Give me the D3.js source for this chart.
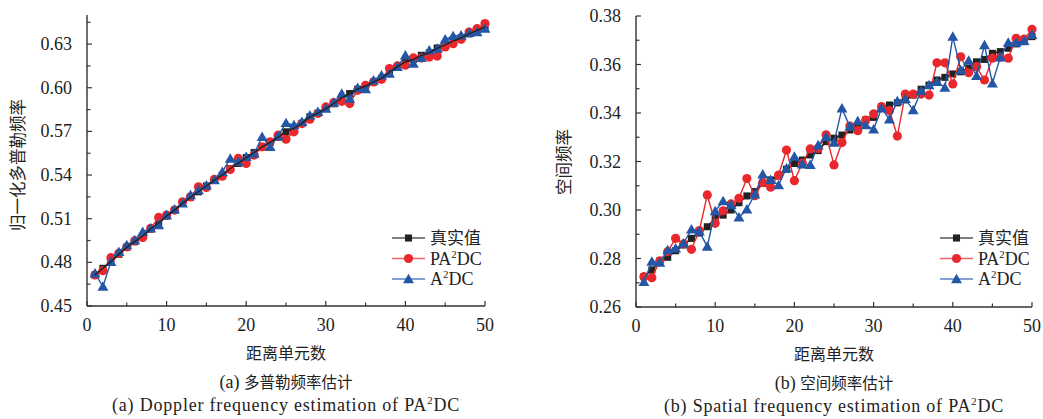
<!DOCTYPE html>
<html><head><meta charset="utf-8">
<script src="https://cdn.jsdelivr.net/npm/d3@7"></script>
<style>
body{margin:0;background:#fff;}
svg{display:block;}
</style>
</head><body>
<svg id="c" width="1043" height="419"></svg>
<script>
// ---------- DATA ----------
const rangeCells = d3.range(1, 51);

// (a) Doppler frequency
const dopplerTruth = [0.4713,0.4759,0.4804,0.4855,0.4903,0.4942,0.4981,0.5029,0.5072,0.5118,
  0.5159,0.5205,0.5246,0.5285,0.5325,0.5365,0.5399,0.5445,0.5480,0.5520,
  0.5555,0.5594,0.5624,0.5660,0.5697,0.5720,0.5755,0.5800,0.5825,0.5857,
  0.5890,0.5930,0.5960,0.5990,0.6012,0.6040,0.6065,0.6108,0.6145,0.6177,
  0.6195,0.6223,0.6240,0.6273,0.6295,0.6320,0.6343,0.6370,0.6395,0.6418];
const dopplerPA2DC = [0.4713,0.4743,0.4832,0.4862,0.4907,0.4948,0.4971,0.5033,0.5109,0.5125,
  0.5159,0.5216,0.5250,0.5319,0.5315,0.5370,0.5392,0.5438,0.5514,0.5480,
  0.5537,0.5594,0.5628,0.5674,0.5646,0.5697,0.5754,0.5784,0.5823,0.5868,
  0.5898,0.5907,0.5891,0.5983,0.6017,0.6040,0.6058,0.6132,0.6150,0.6155,
  0.6205,0.6205,0.6211,0.6218,0.6280,0.6303,0.6333,0.6383,0.6406,0.6441];
const dopplerA2DC = [0.4724,0.4633,0.4804,0.4873,0.4919,0.4953,0.5010,0.5033,0.5056,0.5125,
  0.5165,0.5205,0.5262,0.5296,0.5330,0.5365,0.5422,0.5514,0.5491,0.5525,
  0.5548,0.5662,0.5594,0.5667,0.5758,0.5743,0.5765,0.5811,0.5834,0.5857,
  0.5898,0.5960,0.5926,0.5999,0.5990,0.6051,0.6086,0.6097,0.6143,0.6223,
  0.6166,0.6205,0.6257,0.6269,0.6333,0.6356,0.6360,0.6378,0.6383,0.6406];

// (b) Spatial frequency
const spatialTruth = [0.2725,0.2753,0.2790,0.2805,0.2832,0.2856,0.2883,0.2905,0.2931,0.2966,
  0.2979,0.3000,0.3030,0.3058,0.3076,0.3110,0.3124,0.3140,0.3168,0.3192,
  0.3206,0.3227,0.3245,0.3282,0.3296,0.3309,0.3330,0.3344,0.3371,0.3382,
  0.3426,0.3433,0.3442,0.3454,0.3474,0.3498,0.3515,0.3536,0.3547,0.3561,
  0.3570,0.3584,0.3611,0.3621,0.3646,0.3653,0.3667,0.3685,0.3694,0.3715];
const spatialPA2DC = [0.2725,0.2721,0.2790,0.2828,0.2883,0.2860,0.2838,0.2915,0.3062,0.2945,
  0.2997,0.3025,0.3048,0.3130,0.3059,0.3113,0.3094,0.3144,0.3247,0.3121,
  0.3193,0.3252,0.3254,0.3310,0.3186,0.3278,0.3346,0.3327,0.3371,0.3396,
  0.3426,0.3410,0.3305,0.3478,0.3478,0.3478,0.3474,0.3607,0.3607,0.3520,
  0.3632,0.3566,0.3591,0.3536,0.3626,0.3630,0.3626,0.3708,0.3705,0.3745];
const spatialA2DC = [0.2704,0.2787,0.2783,0.2835,0.2842,0.2863,0.2920,0.2912,0.2849,0.2996,
  0.3037,0.3021,0.2970,0.3003,0.3065,0.3147,0.3124,0.3103,0.3172,0.3220,
  0.3188,0.3186,0.3268,0.3302,0.3278,0.3419,0.3344,0.3367,0.3350,0.3333,
  0.3419,0.3374,0.3449,0.3458,0.3412,0.3491,0.3515,0.3529,0.3505,0.3715,
  0.3577,0.3616,0.3553,0.3680,0.3522,0.3630,0.3690,0.3690,0.3698,0.3722];

const xTicks = [0,10,20,30,40,50];
const xMinorTicks = [5,15,25,35,45];
const dopplerYTicks = [0.45,0.48,0.51,0.54,0.57,0.60,0.63];
const dopplerYMinor = [0.465,0.495,0.525,0.555,0.585,0.615,0.645];
const spatialYTicks = [0.26,0.28,0.30,0.32,0.34,0.36,0.38];
const spatialYMinor = [0.27,0.29,0.31,0.33,0.35,0.37];

const seriesNames = ["真实值","PA2DC","A2DC"];
const xTitle = "距离单元数";
const captionsA = ["(a) 多普勒频率估计", "(a) Doppler frequency estimation of PA2DC"];
const captionsB = ["(b) 空间频率估计", "(b) Spatial frequency estimation of PA2DC"];

// ---------- DRAW ----------
const svg = d3.select("#c");
const LATIN = "'Liberation Serif','DejaVu Serif',serif";
const CJK = "'Noto Sans CJK SC','Noto Sans CJK JP',sans-serif";
const AXC = "#333";
const RED = "#e8282c", BLUE = "#2456a6", BLACK = "#222";

// write a text possibly containing "A2DC" with superscript 2
function richText(sel, str, baseSize, cjkSize) {
  const parts = str.split(/(A2DC)/);
  parts.forEach(p => {
    if (p === "A2DC") {
      sel.append("tspan").text("A").attr("font-family", LATIN).attr("font-size", baseSize);
      sel.append("tspan").text("2").attr("font-size", baseSize*0.6).attr("dy", -baseSize*0.38).attr("font-family", LATIN);
      sel.append("tspan").text("DC").attr("dy", baseSize*0.38).attr("font-family", LATIN).attr("font-size", baseSize);
    } else if (p.length) {
      const segs = p.match(/([\u4e00-\u9fff]+|[^\u4e00-\u9fff]+)/g) || [];
      segs.forEach(s => {
        const isCJK = /[\u4e00-\u9fff]/.test(s);
        sel.append("tspan").text(s).attr("font-family", isCJK ? CJK : LATIN)
          .attr("font-size", isCJK ? cjkSize : baseSize);
      });
    }
  });
}

function panel(cfg) {
  const g = svg.append("g");
  const x = d3.scaleLinear().domain([0,50]).range([cfg.x0, cfg.x1]);
  const y = d3.scaleLinear().domain(cfg.yDomain).range([cfg.y0, cfg.y1]);

  g.append("line").attr("x1", cfg.x0).attr("x2", cfg.x1).attr("y1", cfg.y0).attr("y2", cfg.y0)
    .attr("stroke", AXC).attr("stroke-width", 1.4);
  g.append("line").attr("x1", cfg.x0).attr("x2", cfg.x0).attr("y1", cfg.y0).attr("y2", cfg.y1)
    .attr("stroke", AXC).attr("stroke-width", 1.4);

  g.selectAll(".xt").data(xTicks).join("line")
    .attr("x1", d => x(d)).attr("x2", d => x(d)).attr("y1", cfg.y0).attr("y2", cfg.y0 - 5)
    .attr("stroke", AXC).attr("stroke-width", 1.2);
  g.selectAll(".xm").data(xMinorTicks).join("line")
    .attr("x1", d => x(d)).attr("x2", d => x(d)).attr("y1", cfg.y0).attr("y2", cfg.y0 - 3.5)
    .attr("stroke", AXC).attr("stroke-width", 1.2);
  g.selectAll(".xl").data(xTicks).join("text")
    .attr("x", d => x(d)).attr("y", cfg.y0 + 25)
    .attr("text-anchor", "middle").attr("font-family", LATIN).attr("font-size", 18).attr("fill", "#222")
    .text(d => d);

  g.selectAll(".yt").data(cfg.yTicks).join("line")
    .attr("x1", cfg.x0).attr("x2", cfg.x0 + 5).attr("y1", d => y(d)).attr("y2", d => y(d))
    .attr("stroke", AXC).attr("stroke-width", 1.2);
  g.selectAll(".ym").data(cfg.yMinor).join("line")
    .attr("x1", cfg.x0).attr("x2", cfg.x0 + 3.5).attr("y1", d => y(d)).attr("y2", d => y(d))
    .attr("stroke", AXC).attr("stroke-width", 1.2);
  g.selectAll(".yl").data(cfg.yTicks).join("text")
    .attr("x", cfg.x0 - 15).attr("y", d => y(d) + 6)
    .attr("text-anchor", "end").attr("font-family", LATIN).attr("font-size", 18).attr("fill", "#222")
    .text(d => d.toFixed(2));

  g.append("text").attr("x", (cfg.x0 + cfg.x1)/2).attr("y", cfg.y0 + 53)
    .attr("text-anchor", "middle").attr("font-family", CJK).attr("font-size", 16).attr("fill", "#222")
    .text(xTitle);
  g.append("text").attr("transform", `translate(${cfg.yTitleX},${cfg.yTitleY}) rotate(-90)`)
    .attr("text-anchor", "middle").attr("font-family", CJK).attr("font-size", 16.5).attr("fill", "#222")
    .text(cfg.yTitle);

  const c1 = g.append("text").attr("x", (cfg.x0 + cfg.x1)/2).attr("y", cfg.y0 + 82)
    .attr("text-anchor", "middle").attr("fill", "#222");
  richText(c1, cfg.captions[0], 18, 15.5);
  const c2 = g.append("text").attr("x", (cfg.x0 + cfg.x1)/2).attr("y", cfg.y0 + 105)
    .attr("text-anchor", "middle").attr("fill", "#222").attr("letter-spacing", 0.8);
  richText(c2, cfg.captions[1], 18, 16);

  const line = d3.line().x((d,i) => x(rangeCells[i])).y(d => y(d));
  const pts = (arr) => arr.map((v,i) => ({i: rangeCells[i], v}));
  const sq = d3.symbol().type(d3.symbolSquare).size(50);
  const tri = d3.symbol().type(d3.symbolTriangle).size(52);

  g.append("path").attr("d", line(cfg.truth)).attr("fill", "none").attr("stroke", BLACK).attr("stroke-width", 1.6);
  g.selectAll(".sq").data(pts(cfg.truth)).join("path")
    .attr("transform", d => `translate(${x(d.i)},${y(d.v)})`).attr("d", sq).attr("fill", BLACK);
  g.append("path").attr("d", line(cfg.pa)).attr("fill", "none").attr("stroke", RED).attr("stroke-width", 1.4);
  g.selectAll(".ci").data(pts(cfg.pa)).join("circle")
    .attr("cx", d => x(d.i)).attr("cy", d => y(d.v)).attr("r", 4.6).attr("fill", RED);
  g.append("path").attr("d", line(cfg.a)).attr("fill", "none").attr("stroke", BLUE).attr("stroke-width", 1.4);
  g.selectAll(".tr").data(pts(cfg.a)).join("path")
    .attr("transform", d => `translate(${x(d.i)},${y(d.v)+1})`).attr("d", tri).attr("fill", BLUE);
  if (cfg.truthOnTop) {
    g.append("path").attr("d", line(cfg.truth)).attr("fill", "none").attr("stroke", BLACK).attr("stroke-width", 1.4);
  }

  const lg = g.append("g");
  const cols = [BLACK, RED, BLUE];
  const lineCols = ["#555", "#ee6666", "#5a80c4"];
  seriesNames.forEach((name, k) => {
    const yy = cfg.legY + k * 20.5;
    lg.append("line").attr("x1", cfg.legX).attr("x2", cfg.legX + 33).attr("y1", yy).attr("y2", yy)
      .attr("stroke", lineCols[k]).attr("stroke-width", 1.6);
    const mx = cfg.legX + 16.5;
    if (k === 0) lg.append("path").attr("transform", `translate(${mx},${yy})`).attr("d", sq).attr("fill", cols[k]);
    if (k === 1) lg.append("circle").attr("cx", mx).attr("cy", yy).attr("r", 4.6).attr("fill", cols[k]);
    if (k === 2) lg.append("path").attr("transform", `translate(${mx},${yy+1})`).attr("d", tri).attr("fill", cols[k]);
    const t = lg.append("text").attr("x", cfg.legX + 38).attr("y", yy + 6).attr("fill", "#222");
    richText(t, name, 18, 17);
  });
}

panel({x0: 87, x1: 485, y0: 306, y1: 15, yDomain: [0.45, 0.65],
  yTicks: dopplerYTicks, yMinor: dopplerYMinor,
  truth: dopplerTruth, pa: dopplerPA2DC, a: dopplerA2DC, truthOnTop: true,
  yTitle: "归一化多普勒频率", yTitleX: 24, yTitleY: 165,
  captions: captionsA, legX: 392, legY: 238});

panel({x0: 636, x1: 1032, y0: 307, y1: 16, yDomain: [0.26, 0.38],
  yTicks: spatialYTicks, yMinor: spatialYMinor,
  truth: spatialTruth, pa: spatialPA2DC, a: spatialA2DC, truthOnTop: false,
  yTitle: "空间频率", yTitleX: 570, yTitleY: 162,
  captions: captionsB, legX: 940, legY: 238});
</script>
</body></html>
